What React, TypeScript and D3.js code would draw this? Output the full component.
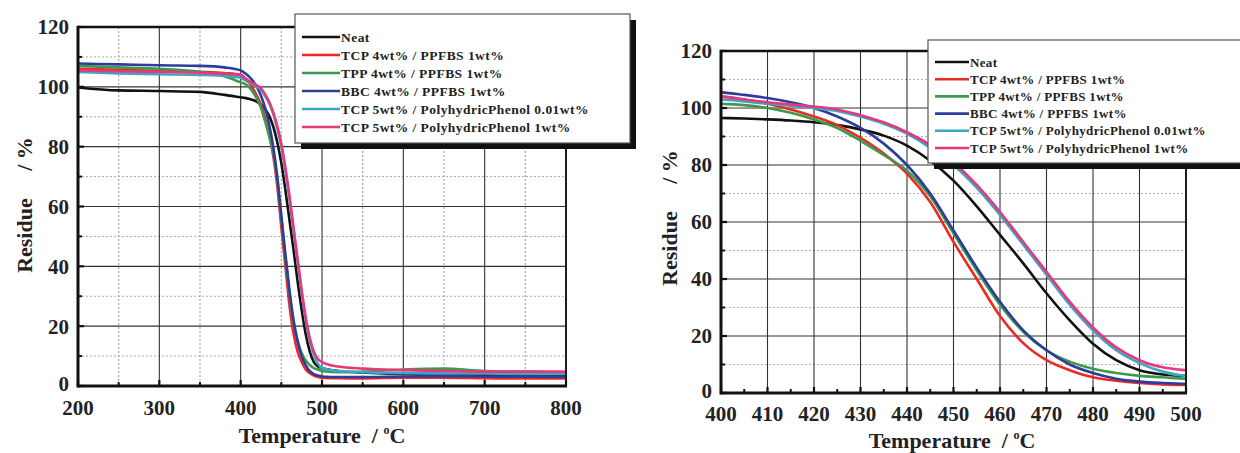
import React from "react";
import * as d3 from "d3";

// temperature sample points (°C)
const temps = [
  200, 250, 300, 350, 380,
  400, 405, 410, 415, 420, 425, 430, 435, 440, 445, 450,
  455, 460, 465, 470, 475, 480, 485, 490, 495, 500,
  520, 550, 600, 650, 700, 750, 800,
];

const seriesNames = [
  "Neat",
  "TCP 4wt% / PPFBS 1wt%",
  "TPP 4wt% / PPFBS 1wt%",
  "BBC 4wt% / PPFBS 1wt%",
  "TCP 5wt% / PolyhydricPhenol 0.01wt%",
  "TCP 5wt% / PolyhydricPhenol 1wt%",
];

const seriesColors = ["#111111", "#ec2a24", "#3d9a4c", "#2c3c9c", "#3ba6c6", "#e8387c"];

const neat = [
  99.8, 98.8, 98.6, 98.3, 97.3,
  96.5, 96.3, 96, 95.6, 95, 94, 92.5, 90.3, 86.8, 81.5, 74.5,
  65.5, 55.5, 45.5, 35, 25.5, 17.3, 11.5, 8, 6.5, 6,
  5, 4.5, 4, 4, 3.8, 3.6, 3.5,
];
const tcp4 = [
  106, 105.7, 105.3, 105, 104.6,
  104, 103, 101.5, 99.5, 97, 94, 89.5, 84, 77, 67, 53,
  40, 27, 17.5, 11.5, 8, 5.5, 4.3, 3.5, 3, 2.8,
  2.6, 2.5, 2.8, 2.8, 2.6, 2.5, 2.5,
];
const tpp4 = [
  107, 106.5, 106, 105, 103.5,
  101.5, 101, 100, 98.3, 96, 93, 88.5, 83.5, 78, 69, 56,
  43, 31, 21.5, 15, 11, 8.5, 7, 6, 5.5, 5,
  4.6, 4.8, 5.5, 5.8, 5, 4.8, 4.5,
];
const bbc4 = [
  107.8, 107.5, 107.2, 107, 106.5,
  105.5, 104.6, 103.5, 102, 100, 97, 93, 87.5, 80, 70, 57,
  44, 32, 22, 15, 10, 7, 5, 4, 3.5, 3.2,
  3, 3, 3.2, 3.3, 3.2, 3.1, 3,
];
const tcp5low = [
  105, 104.5, 104.2, 104, 103.7,
  103, 102.3, 101.5, 100.8, 100, 99, 97, 94.5, 91, 86, 80,
  72, 62.5, 52, 41.5, 31, 22, 15, 10.5, 7.5, 6,
  5, 4.6, 4.3, 4.2, 4.2, 4, 4,
];
const tcp5high = [
  105.5, 105.2, 105, 104.7, 104.4,
  104, 103, 102, 101.2, 100.5, 99.5, 97.5, 95, 91.5, 87, 81,
  73, 63.5, 53, 42.5, 32, 23, 16, 11.5, 9, 8,
  6.5, 5.8, 5.3, 5, 4.8, 4.8, 4.8,
];

const seriesValues = [neat, tcp4, tpp4, bbc4, tcp5low, tcp5high];

const yMajor = [0, 20, 40, 60, 80, 100, 120];
const yMinor = [10, 30, 50, 70, 90, 110];
const xMajorFull = [200, 300, 400, 500, 600, 700, 800];
const xMinorFull = [250, 350, 450, 550, 650, 750];
const xMajorZoom = [400, 410, 420, 430, 440, 450, 460, 470, 480, 490, 500];
const xMinorZoom = [405, 415, 425, 435, 445, 455, 465, 475, 485, 495];

const serif = { fontFamily: "Liberation Serif, Times New Roman, DejaVu Serif, serif", fontWeight: 700 };

type PanelProps = {
  id: string;
  x0: number; x1: number; y0: number; y1: number;
  domain: [number, number];
  xMajor: number[]; xMinor: number[];
  minorGridX: boolean;
  legend: { x: number; y: number; w: number; h: number; rowY: number; rowH: number; font: number; lineW: number; spacing: number };
  yTitle: { x: number; y: number };
  xTitle: { x: number; y: number };
  xLabelY: number;
};

const Panel = (p: PanelProps) => {
  const x = d3.scaleLinear().domain(p.domain).range([p.x0, p.x1]);
  const y = d3.scaleLinear().domain([0, 120]).range([p.y1, p.y0]);
  const pts = temps.map((t, i) => i).filter(i => temps[i] >= p.domain[0] - 20 && temps[i] <= p.domain[1] + 20);
  const line = d3.line<number>()
    .x(i => x(temps[i]))
    .curve(d3.curveMonotoneX);

  const lg = p.legend;
  return (
    <g>
      <defs>
        <clipPath id={p.id}>
          <rect x={p.x0} y={p.y0} width={p.x1 - p.x0} height={p.y1 - p.y0} />
        </clipPath>
      </defs>
      {/* grid */}
      {p.minorGridX && p.xMinor.map(t => (
        <line key={"gx" + t} x1={x(t)} x2={x(t)} y1={p.y0} y2={p.y1} stroke="#999" strokeWidth={1} strokeDasharray="2,2" />
      ))}
      {yMinor.map(v => (
        <line key={"gy" + v} x1={p.x0} x2={p.x1} y1={y(v)} y2={y(v)} stroke="#aaa" strokeWidth={1} strokeDasharray="2,2" />
      ))}
      {p.xMajor.map(t => (
        <line key={"GX" + t} x1={x(t)} x2={x(t)} y1={p.y0} y2={p.y1} stroke="#333" strokeWidth={1.1} />
      ))}
      {yMajor.map(v => (
        <line key={"GY" + v} x1={p.x0} x2={p.x1} y1={y(v)} y2={y(v)} stroke="#333" strokeWidth={1.1} />
      ))}
      {/* curves */}
      <g clipPath={`url(#${p.id})`}>
        {seriesValues.map((vals, s) => (
          <path key={s} d={line.y(i => y(vals[i]))(pts) || ""} fill="none" stroke={seriesColors[s]} strokeWidth={2.6} />
        ))}
      </g>
      {/* ticks */}
      {yMajor.map(v => (
        <line key={"ty" + v} x1={p.x0} x2={p.x0 + 6} y1={y(v)} y2={y(v)} stroke="#111" strokeWidth={2.2} />
      ))}
      {yMinor.map(v => (
        <line key={"tym" + v} x1={p.x0} x2={p.x0 + 4} y1={y(v)} y2={y(v)} stroke="#111" strokeWidth={2} />
      ))}
      {p.xMajor.map(t => (
        <line key={"tx" + t} x1={x(t)} x2={x(t)} y1={p.y1} y2={p.y1 - 6} stroke="#111" strokeWidth={2.2} />
      ))}
      {p.xMinor.map(t => (
        <line key={"txm" + t} x1={x(t)} x2={x(t)} y1={p.y1} y2={p.y1 - 4} stroke="#111" strokeWidth={2} />
      ))}
      {/* frame */}
      <line x1={p.x0} x2={p.x1} y1={p.y0} y2={p.y0} stroke="#111" strokeWidth={2.6} />
      <line x1={p.x1} x2={p.x1} y1={p.y0} y2={p.y1} stroke="#111" strokeWidth={1.8} />
      <line x1={p.x0} x2={p.x0} y1={p.y0 - 1.3} y2={p.y1 + 1.5} stroke="#111" strokeWidth={3} />
      <line x1={p.x0} x2={p.x1 + 1} y1={p.y1} y2={p.y1} stroke="#111" strokeWidth={3} />
      {/* tick labels */}
      {yMajor.map(v => (
        <text key={"ly" + v} x={p.x0 - 9} y={y(v) + (v === 0 ? -2 : 0)} dy="0.35em" textAnchor="end" style={serif} fontSize={21} fill="#222">{v}</text>
      ))}
      {p.xMajor.map(t => (
        <text key={"lx" + t} x={x(t)} y={p.xLabelY} textAnchor="middle" style={serif} fontSize={21} fill="#222">{t}</text>
      ))}
      {/* axis titles */}
      <text x={p.xTitle.x} y={p.xTitle.y} textAnchor="middle" style={{ ...serif, whiteSpace: "pre" }} fontSize={22} fill="#222">
        {"Temperature  / "}
        <tspan fontSize={12} dy={-9}>o</tspan>
        <tspan dy={9}>C</tspan>
      </text>
      <text transform={`translate(${p.yTitle.x},${p.yTitle.y}) rotate(-90)`} textAnchor="middle" style={{ ...serif, whiteSpace: "pre" }} fontSize={22} fill="#222">
        {"Residue     / %"}
      </text>
      {/* legend */}
      <rect x={lg.x + 6} y={lg.y + 6} width={lg.w} height={lg.h} fill="#111" />
      <rect x={lg.x} y={lg.y} width={lg.w} height={lg.h} fill="#fff" stroke="#555" strokeWidth={1.2} />
      {seriesNames.map((name, s) => {
        const ry = lg.rowY + s * lg.rowH;
        return (
          <g key={"lg" + s}>
            <line x1={lg.x + 7} x2={lg.x + 7 + lg.lineW} y1={ry} y2={ry} stroke={seriesColors[s]} strokeWidth={2.6} />
            <text x={lg.x + 8 + lg.lineW} y={ry} dy="0.35em" style={{ ...serif, letterSpacing: lg.spacing }} fontSize={lg.font} fill="#222">{name}</text>
          </g>
        );
      })}
    </g>
  );
};

export default function App() {
  return (
    <svg width={1240} height={453} style={{ position: "absolute", left: 0, top: 0, background: "#fff" }}>
      <rect x={0} y={0} width={1240} height={453} fill="#fff" />
      <Panel
        id="clipL"
        x0={78} x1={566} y0={27} y1={386}
        domain={[200, 800]}
        xMajor={xMajorFull} xMinor={xMinorFull}
        minorGridX={true}
        legend={{ x: 295, y: 14, w: 335, h: 129, rowY: 37, rowH: 18, font: 13.5, lineW: 38, spacing: 0.45 }}
        yTitle={{ x: 32, y: 205 }}
        xTitle={{ x: 322, y: 443 }}
        xLabelY={415}
      />
      <Panel
        id="clipR"
        x0={721} x1={1186} y0={51} y1={393}
        domain={[400, 500]}
        xMajor={xMajorZoom} xMinor={xMinorZoom}
        minorGridX={false}
        legend={{ x: 928, y: 40, w: 330, h: 123, rowY: 62, rowH: 17.2, font: 13, lineW: 34, spacing: 0.35 }}
        yTitle={{ x: 677, y: 218 }}
        xTitle={{ x: 952, y: 448 }}
        xLabelY={421}
      />
    </svg>
  );
}
